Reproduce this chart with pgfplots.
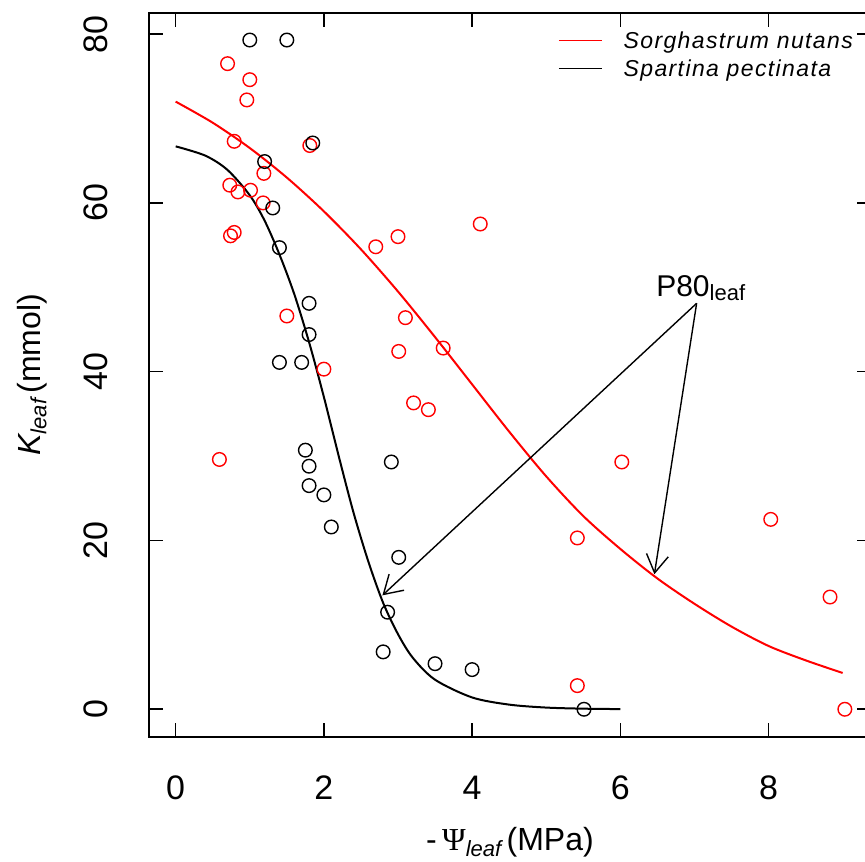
\documentclass[border=0pt]{standalone}
\usepackage{fontspec}
\setmainfont{Liberation Sans}
\newfontfamily\legfont[LetterSpace=6]{Liberation Sans}
\newfontfamily\seriffont{Liberation Serif}
\usepackage{pgfplots}
\pgfplotsset{compat=1.18}
\usetikzlibrary{arrows.meta}
\begin{document}
\begin{tikzpicture}
\begin{axis}[
  scale only axis, width=361pt, height=362pt,
  xmin=-0.36, xmax=9.383, ymin=-3.25, ymax=82.54,
  axis line style={line width=1pt},
  xtick={0,2,4,6,8}, ytick={0,20,40,60,80},
  tick align=inside, xtick pos=both, ytick pos=both,
  xticklabel pos=lower, yticklabel pos=left,
  major tick length=7pt,
  tick style={line width=0.8pt, black},
  /pgf/number format/assume math mode=true,
  ticklabel style={font=\fontsize{17}{20}\selectfont},
  xticklabel style={yshift=-16pt},
  yticklabel style={xshift=-17pt, rotate=90, anchor=south},
  clip=true,
]
% fitted curves
\addplot[red, line width=1pt, smooth] coordinates {
 (0,72.0) (0.5,69.5) (1.0,66.5) (1.5,63.0) (2.0,59.0) (2.5,54.5) (3.0,49.5)
 (3.5,44.1) (4.0,38.5) (4.5,32.9) (5.0,27.6) (5.5,22.9) (6.0,19.0) (6.5,15.5)
 (7.0,12.5) (7.5,9.8) (8.0,7.5) (8.5,5.8) (9.0,4.3)};
\addplot[black, line width=1pt, smooth] coordinates {
 (0,66.7) (0.4,65.6) (0.7,63.9) (1.0,60.9) (1.2,57.9) (1.4,53.9) (1.6,49.2)
 (1.8,43.5) (2.0,37.0) (2.2,30.0) (2.4,23.3) (2.6,17.5) (2.8,12.6) (3.0,8.9)
 (3.2,6.1) (3.5,3.5) (4.0,1.4) (4.5,0.55) (5.0,0.2) (5.5,0.07) (6.0,0.02)};
% observations
\addplot[only marks, mark=o, draw=red, mark size=3.4pt, mark options={line width=0.7pt}] coordinates {
 (0.70,76.5) (1.00,74.6) (0.96,72.2) (0.79,67.3) (1.81,66.8) (1.19,63.5)
 (0.73,62.1) (0.84,61.3) (1.01,61.5) (1.18,60.0) (0.79,56.5) (0.74,56.1)
 (4.11,57.5) (3.00,56.0) (2.70,54.8) (1.50,46.6) (3.10,46.4) (3.61,42.8)
 (3.01,42.4) (2.00,40.3) (3.21,36.3) (3.41,35.5) (0.59,29.6) (5.42,20.3)
 (5.42,2.8) (8.03,22.5) (8.83,13.3) (9.03,0) (6.02,29.3)};
\addplot[only marks, mark=o, draw=black, mark size=3.4pt, mark options={line width=0.7pt}] coordinates {
 (1.00,79.3) (1.50,79.3) (1.85,67.1) (1.20,64.9) (1.31,59.4) (1.40,54.7)
 (1.80,48.1) (1.80,44.4) (1.40,41.1) (1.70,41.1) (1.75,30.7) (1.80,28.8)
 (1.80,26.5) (2.00,25.4) (2.91,29.3) (2.10,21.6) (3.01,18.0) (2.86,11.5)
 (2.80,6.8) (3.50,5.4) (4.00,4.7) (5.51,0)};
% annotation
\draw[line width=0.7pt, -{Straight Barb[length=9pt,width=11pt]}] (axis cs:7.03,48.1) -- (axis cs:2.79,13.5);
\draw[line width=0.7pt, -{Straight Barb[length=9pt,width=11pt]}] (axis cs:7.03,48.1) -- (axis cs:6.46,16.0);
\node[anchor=base west, inner sep=0pt] at (axis cs:6.48,48.9)
  {\fontsize{15}{18}\selectfont P80\raisebox{-2pt}{\fontsize{11}{13}\selectfont leaf}};
% legend
\draw[red, line width=0.6pt] (axis cs:5.17,79.2) -- (axis cs:5.75,79.2);
\draw[black, line width=0.6pt] (axis cs:5.17,75.9) -- (axis cs:5.75,75.9);
\node[anchor=base west, inner sep=0pt] at (axis cs:6.04,78.3)
  {\legfont\itshape\fontsize{11.5}{14}\selectfont Sorghastrum nutans};
\node[anchor=base west, inner sep=0pt] at (axis cs:6.04,75.0)
  {\legfont\itshape\fontsize{11.5}{14}\selectfont Spartina pectinata};
\coordinate (SW) at (rel axis cs:0,0);
\coordinate (NE) at (rel axis cs:1,1);
\coordinate (L) at (rel axis cs:0,0.5);
\coordinate (B) at (rel axis cs:0.5,0);
\end{axis}
\node[rotate=90, anchor=center, inner sep=0pt] at ([xshift=-58.5pt]L)
  {\fontsize{16}{19}\selectfont\itshape K\raisebox{-3pt}{\fontsize{11}{13}\selectfont leaf}\upshape\,(mmol)};
\node[anchor=center, inner sep=0pt] at ([yshift=-53pt]B)
  {\fontsize{16}{19}\selectfont -\,{\seriffont Ψ}\raisebox{-3pt}{\fontsize{11}{13}\selectfont\itshape leaf}\,(MPa)};
\pgfresetboundingbox
\path[use as bounding box] ([xshift=-74.5pt,yshift=-62.65pt]SW) rectangle ([xshift=-3pt,yshift=6.35pt]NE);
\end{tikzpicture}
\end{document}
